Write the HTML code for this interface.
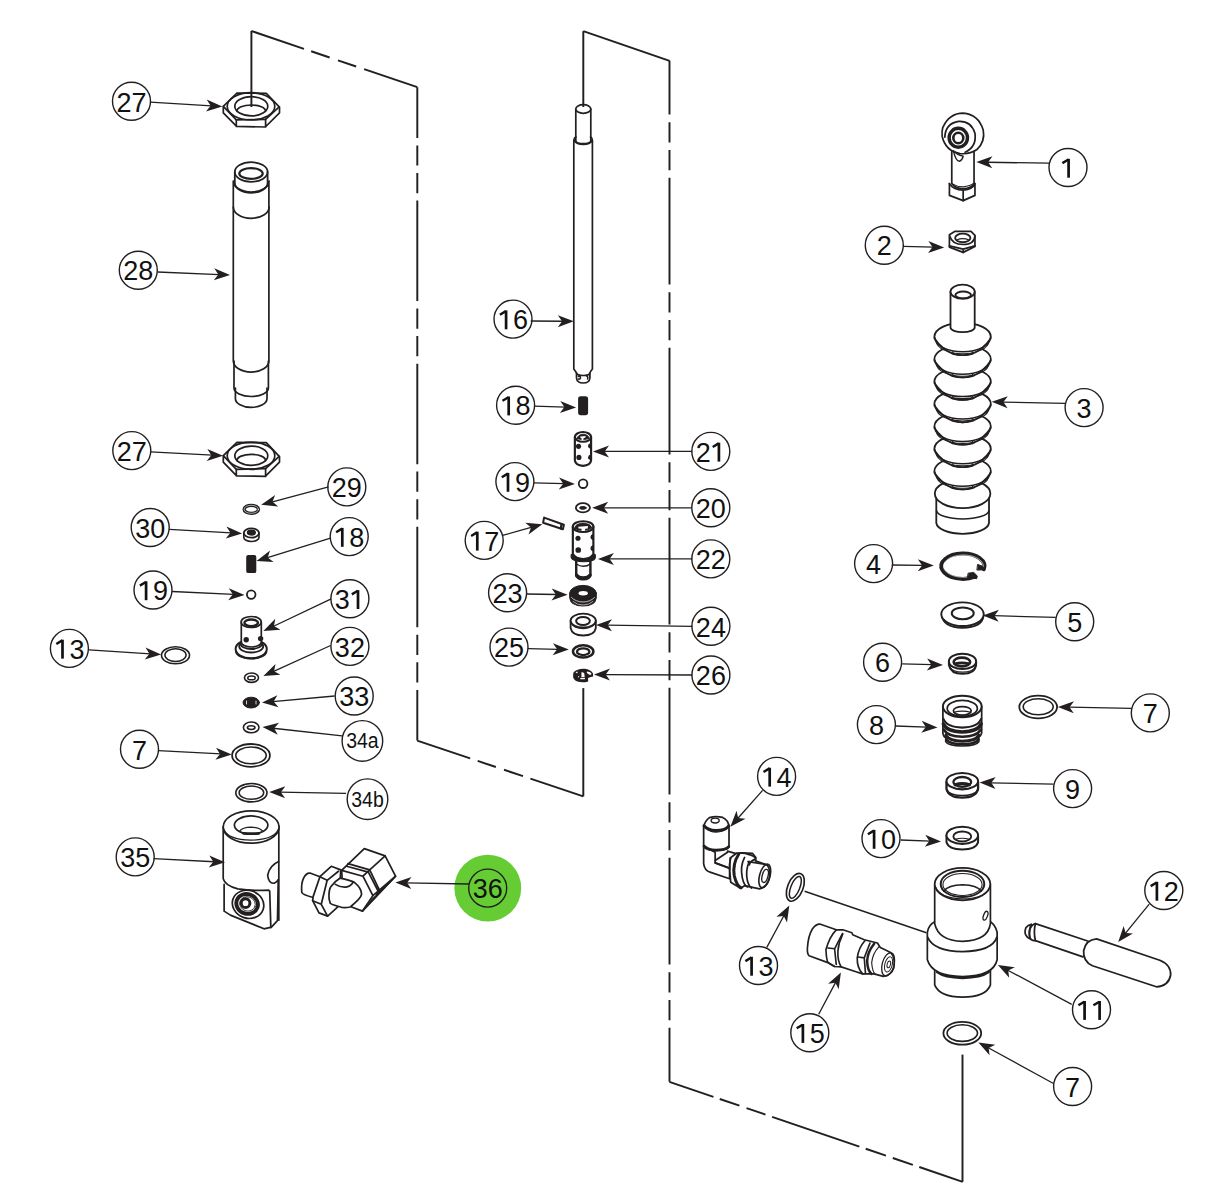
<!DOCTYPE html>
<html><head><meta charset="utf-8"><style>
html,body{margin:0;padding:0;background:#fff;}
svg{display:block;}
text{font-family:"Liberation Sans",sans-serif;fill:#111;}
</style></head><body>
<svg width="1214" height="1184" viewBox="0 0 1214 1184">
<rect width="1214" height="1184" fill="#fff"/>
<g fill="none" stroke="#231f20" stroke-width="1.7" stroke-linejoin="round" stroke-linecap="round">
<!-- nut 27 top -->
<g id="nut27">
<path d="M236.9,93 L266.3,93.3 L279.2,106.9 L265.6,119.3 L236.3,119.9 L223.3,106.3 Z" fill="#fff"/>
<path d="M223.3,106.3 V112.8 L236.6,126.4 L265.3,127 L279.5,112.8 V106.9 M236.3,119.9 V126.4 M265.6,119.3 V127"/>
<ellipse cx="251" cy="106.3" rx="23.8" ry="13.6"/>
<ellipse cx="251.3" cy="106.3" rx="16.5" ry="9.6"/>
<path d="M237,111 A14.2,6 0 0 1 265.5,111"/>
</g>
<use href="#nut27" transform="translate(0,349.4)"/>
<!-- pipe 28 -->
<ellipse cx="251.2" cy="172" rx="16.4" ry="9.8"/>
<ellipse cx="251" cy="173.5" rx="11.7" ry="5.4" stroke-width="2.2"/>
<path d="M234.8,172 V183 A16.4,9.8 0 0 0 267.6,183 V172" stroke-width="1.8"/>
<path d="M233.3,181 V361 A17.7,11 0 0 0 268.9,361 V181 M233.3,181 A17.9,11 0 0 0 269.1,181"/>
<path d="M233.3,207 A17.9,11.3 0 0 0 269.1,207"/>
<path d="M234,361 V388 A17.2,8.5 0 0 0 268.4,388 V361"/>
<path d="M235.4,388 V398.4 A15.8,9 0 0 0 267,398.4 V388"/>
<!-- 29 ring -->
<ellipse cx="251.3" cy="509.3" rx="7.2" ry="4" stroke-width="3.3"/><ellipse cx="251.3" cy="509.3" rx="7.2" ry="4" stroke="#fff" stroke-width="0.6"/>
<!-- 30 -->
<path d="M243.8,533 V537.5 A7.6,4 0 0 0 259,537.5 V533" stroke-width="1.6"/>
<ellipse cx="251.4" cy="533" rx="7.6" ry="4.6" stroke-width="1.8"/>
<ellipse cx="251.4" cy="532.6" rx="3.8" ry="2.2" fill="#231f20"/>
<!-- 18 spring -->
<rect x="246.2" y="554.9" width="10.1" height="18.2" rx="2.2" fill="#231f20" stroke="none"/>
<!-- 19 ball -->
<circle cx="251.2" cy="594.6" r="4.3" stroke-width="1.8"/>
<!-- 31 -->
<ellipse cx="251.2" cy="649" rx="15.6" ry="9.3" fill="#fff" stroke-width="2"/>
<path d="M236,652 A15.3,7.5 0 0 0 266.4,652" stroke-width="1.8"/>
<ellipse cx="251.2" cy="646.5" rx="12" ry="6" stroke-width="1.8"/>
<ellipse cx="251.2" cy="644" rx="10.5" ry="5" stroke-width="1.8"/>
<path d="M241.3,622 V642 A10,5 0 0 0 261.3,642 V622" fill="#fff" stroke-width="1.7"/>
<ellipse cx="251.2" cy="622" rx="10" ry="5.5" fill="#fff" stroke-width="1.7"/>
<ellipse cx="251.2" cy="622.8" rx="6.8" ry="3.3" stroke-width="2.4"/>
<circle cx="246.2" cy="639.8" r="2.7" fill="#231f20" stroke="none"/>
<circle cx="260.6" cy="638.6" r="2.7" fill="#231f20" stroke="none"/>
<!-- 32 -->
<ellipse cx="251.5" cy="677.7" rx="7" ry="4.7" stroke-width="1.6"/>
<ellipse cx="251.5" cy="677.9" rx="3.8" ry="1.9" stroke-width="1.4"/>
<!-- 33 -->
<ellipse cx="251.2" cy="702.6" rx="8.2" ry="5.4" fill="#231f20" stroke-width="1"/>
<path d="M246.5,701 V704 M256,701 V704" stroke="#fff" stroke-width="0.8"/>
<!-- 34a -->
<ellipse cx="251.2" cy="727.4" rx="7.8" ry="5.4" stroke-width="1.6"/>
<ellipse cx="251.2" cy="727.6" rx="3.8" ry="1.9" stroke-width="1.6"/>
<!-- 13 left ring -->
<ellipse cx="175.5" cy="655.3" rx="14" ry="8.5" stroke-width="1.6"/>
<ellipse cx="175.5" cy="655.1" rx="10.6" ry="6.3" stroke-width="1.5"/>
<!-- 7 ring -->
<ellipse cx="251" cy="755.4" rx="18.9" ry="11.4" stroke-width="1.8"/>
<ellipse cx="251" cy="755.4" rx="15.2" ry="8.4" stroke-width="1.6"/>
<!-- 34b ring -->
<ellipse cx="251.4" cy="792.7" rx="15.6" ry="9.2" stroke-width="1.6"/>
<ellipse cx="251.4" cy="792.7" rx="12.3" ry="6.6" stroke-width="1.5"/>
<!-- 35 body -->
<g transform="translate(215,800) scale(0.11398)" stroke-width="15">
<path d="M80,740 L80,975 L135,1010 L430,1130 L495,1115 L548,1058 L555,700" fill="#fff"/>
<path d="M72,235 L72,690 Q85,750 200,780 Q330,800 470,790 L480,800 L490,1120" fill="#fff"/>
<path d="M560,230 L560,1055"/>
<ellipse cx="317" cy="237" rx="245" ry="142" fill="#fff"/>
<path d="M76,255 Q110,350 317,352 Q520,350 558,255" stroke-width="11"/>
<ellipse cx="317" cy="220" rx="147" ry="80"/>
<path d="M215,275 Q240,240 317,238 Q395,240 420,275" stroke-width="11"/>
<path d="M250,292 Q317,300 385,292" stroke-width="24"/>
<path d="M558,540 Q478,575 462,660 Q470,735 520,730 Q545,720 556,700" />
<ellipse cx="290" cy="915" rx="140" ry="122" transform="rotate(20 290 915)"/>
<ellipse cx="282" cy="912" rx="96" ry="86" transform="rotate(20 282 912)" stroke-width="34"/>
<ellipse cx="285" cy="912" rx="70" ry="62" transform="rotate(20 285 912)" stroke-width="7"/>
<circle cx="268" cy="905" r="38" stroke-width="26"/>
</g>
<!-- 36 fitting -->
<g transform="translate(295,840) scale(0.09058)" stroke-width="19">
<path d="M275,405 L165,365 Q125,360 95,420 Q65,480 75,580 Q85,605 200,635" fill="#fff"/>
<path d="M275,405 L400,290 L505,330 L500,420 L440,480 L470,740 L360,840 L265,805 L195,670 L200,625 Z" fill="#fff"/>
<path d="M275,405 L355,445 L480,345 M355,445 L290,710 L195,670 M290,710 L360,840"/>
<path d="M515,335 L765,95 L995,175 L1110,400 L745,785 L625,740 L520,420 Z" fill="#fff"/>
<path d="M585,260 L825,330 L995,175 M570,290 L810,355 M515,335 L750,400 L825,330 M750,400 L860,615 L745,785 M825,330 L935,560 M810,355 L920,570 M860,615 L1110,400 M900,600 L1090,420"/>
<path d="M745,785 L1110,400 L1040,480 L860,640 Z" fill="#231f20" stroke-width="8"/>
<path d="M500,420 Q600,440 652,465 Q735,530 735,600 Q730,640 610,740 Q560,750 520,745 Q420,720 390,700 Q370,650 375,600 Q380,520 410,500 Q450,450 500,420 Z" fill="#fff"/>
<path d="M445,490 Q500,525 560,520 Q610,515 640,470"/>
</g>
<!-- 16 rod -->
<g stroke-width="1.7">
<path d="M575.8,109 V142 M590.8,109 V142"/>
<ellipse cx="583.3" cy="109" rx="7.5" ry="4.3" fill="#fff"/>
<path d="M573.8,141 V369 Q576,372 576.5,373 V378 Q577,383 583.2,383 Q589.5,383 589.9,378 V373 Q590,372 592.4,369 V141"/>
<path d="M573.8,141 Q574,137.5 576,137 M592.4,141 Q592.2,137.5 590.5,137"/>
<path d="M575,141 A8.5,4 0 0 0 591.5,141" stroke-width="2.4"/>
<path d="M576.5,373 A6.7,2.5 0 0 0 589.9,373"/>
<path d="M578.5,376.5 Q580.5,375.5 580.5,378 Q580,379.5 578.5,379 M586.5,376 Q588.5,376.5 587.5,379" stroke-width="1.5"/>
</g>
<!-- 18 spring mid -->
<rect x="578.1" y="396.2" width="10" height="19" rx="2.6" fill="#231f20" stroke="none"/>
<!-- 21 -->
<g transform="translate(535,425) scale(0.13514)" stroke-width="16">
<path d="M295,88 V262 Q300,300 355,302 Q410,300 415,262 V88" fill="#fff"/>
<ellipse cx="355" cy="88" rx="60" ry="36" fill="#fff"/>
<path d="M310,100 Q320,70 355,68 Q395,70 402,98 Q380,108 355,108 Q325,108 310,100 Z" fill="#231f20" stroke-width="6"/>
<path d="M335,85 L375,82 L372,95 L360,96 L357,112 L345,112 L344,96 L335,95 Z" fill="#fff" stroke="none"/>
<circle cx="322" cy="158" r="19" fill="#231f20" stroke="none"/>
<circle cx="325" cy="240" r="19" fill="#231f20" stroke="none"/>
<path d="M415,132 Q392,140 392,155 Q392,172 415,176 Z M415,216 Q392,224 392,240 Q392,256 415,260 Z" fill="#231f20" stroke="none"/>
</g>
<!-- 19 ball mid -->
<circle cx="583.1" cy="483.7" r="4.3" stroke-width="1.8"/>
<!-- 20 ring -->
<ellipse cx="582.9" cy="507.8" rx="7" ry="4.6" stroke-width="1.8"/>
<ellipse cx="582.9" cy="507.9" rx="3.3" ry="1.4" fill="#231f20" stroke-width="1"/>
<!-- 17 pin -->
<path d="M544.1,517.6 L563.9,524.7 L562.9,529.3 L543.1,522.7 Z" fill="#fff" stroke-width="2"/>
<path d="M561.5,524.2 L560.8,528.6" stroke-width="2.2"/>
<!-- 22 -->
<g transform="translate(535,425) scale(0.13514)" stroke-width="16">
<path d="M305,990 V1110 Q310,1140 357,1142 Q405,1140 410,1110 V990" fill="#fff" stroke-width="18"/>
<path d="M308,1112 Q320,1132 357,1133 Q395,1132 407,1112" stroke-width="26"/>
<path d="M310,1030 Q330,1045 357,1045 Q390,1045 405,1030" stroke-width="10"/>
<path d="M268,960 Q262,990 290,1000 Q330,1012 357,1012 Q400,1012 430,1000 Q452,990 446,960 Q430,945 357,945 Q285,945 268,960 Z" fill="#231f20" stroke-width="8"/>
<path d="M280,752 V955 Q300,990 357,992 Q415,990 432,955 V752" fill="#fff"/>
<ellipse cx="356" cy="752" rx="76" ry="40" fill="#fff"/>
<path d="M292,765 Q300,728 356,726 Q410,728 420,762 Q395,780 356,780 Q315,780 292,765 Z" fill="#231f20" stroke-width="6"/>
<path d="M320,752 L392,748 L390,765 L372,767 L368,785 L345,785 L344,767 L322,766 Z" fill="#fff" stroke="none"/>
<circle cx="318" cy="838" r="19" fill="#231f20" stroke="none"/>
<circle cx="320" cy="925" r="21" fill="#231f20" stroke="none"/>
<path d="M432,805 Q410,812 410,828 Q410,846 432,852 Z M432,888 Q410,896 410,912 Q410,930 432,936 Z" fill="#231f20" stroke="none"/>
</g>
<!-- 23 -->
<g>
<path d="M569.8,593 V598 Q571,606 583,606 Q595,606 596.2,598 V593" fill="#231f20" stroke-width="1.2"/>
<ellipse cx="583" cy="593" rx="13.2" ry="7.6" fill="#231f20" stroke-width="1"/>
<ellipse cx="583.2" cy="593.2" rx="4.6" ry="2.2" fill="#fff" stroke="none"/>
<path d="M571.5,597.5 Q576,602 583,602 Q590,602 594.5,597.5" stroke="#fff" stroke-width="0.7"/><path d="M573,601.5 Q577,605 583,605 Q589,605 593,601.5" stroke="#fff" stroke-width="0.6"/>
</g>
<!-- 24 -->
<g stroke-width="1.8">
<path d="M570.6,620.6 V628 Q572,635.5 583.2,635.5 Q594.5,635.5 595.8,628 V620.6" fill="#fff"/>
<ellipse cx="583.2" cy="620.6" rx="12.6" ry="6.9" fill="#fff"/>
<ellipse cx="583" cy="621" rx="6.9" ry="4" stroke-width="2"/>
<path d="M571,623 Q574,628.5 583.2,628.5 Q592,628.5 595.5,623" stroke-width="1.3"/>
</g>
<!-- 25 -->
<ellipse cx="583.2" cy="651.4" rx="10.2" ry="6.1" stroke-width="2.5"/>
<ellipse cx="583.2" cy="651.7" rx="6.2" ry="3.4" stroke-width="2.3"/>
<!-- 26 eclip -->
<g transform="translate(560,660) scale(0.04119)">
<path d="M330,300 Q420,205 600,215 Q740,230 800,320 L805,400 Q760,410 680,440 L685,520 Q560,560 420,525 Q310,470 318,380 Q320,330 330,300 Z" fill="#231f20" stroke="none"/>
<ellipse cx="705" cy="318" rx="62" ry="28" transform="rotate(25 705 318)" fill="#fff" stroke="none"/>
<path d="M520,300 Q560,290 590,330 L600,420 L520,420 Z M490,435 L610,440 L600,470 L495,468 Z" fill="#fff" stroke="none"/>
<path d="M375,300 L430,280 L420,330 Z M430,400 L470,390 L450,430 Z" fill="#fff" stroke="none"/>
</g>
<!-- 1 rod end + 2 nut -->
<g transform="translate(935,105) scale(0.131)" stroke-width="13">
<path d="M110,600 L110,690 L215,730 L305,690 L305,600" fill="#fff"/>
<path d="M110,600 Q140,650 215,650 Q290,645 305,600 M215,650 V730"/>
<path d="M128,330 V600 Q160,640 215,640 Q280,635 298,600 V330" fill="#fff"/>
<path d="M128,600 Q170,625 215,625 Q270,620 298,595" stroke-width="8"/>
<path d="M60,170 Q110,62 215,62 Q330,70 368,190 Q385,280 320,340 Q260,380 190,370 Q80,350 55,240 Q50,200 60,170 Z" fill="#fff"/>
<path d="M75,245 Q80,140 180,125 Q275,120 305,215 Q320,320 230,360" />
<ellipse cx="178" cy="250" rx="70" ry="72" stroke-width="26"/>
<ellipse cx="178" cy="252" rx="38" ry="40" stroke-width="20"/>
<path d="M140,350 Q160,430 185,430 Q210,420 215,390 Q180,385 140,350 Z" fill="#fff" stroke-width="11"/>
</g>
<g transform="translate(935,105) scale(0.131)" stroke-width="13">
<path d="M110,990 L150,965 L275,965 L305,995 L305,1080 L215,1125 L110,1085 Z" fill="#fff"/>
<path d="M110,1075 L215,1100 L305,1075 M215,1100 V1125"/>
<path d="M112,1000 Q130,1065 215,1065 Q300,1065 305,1000" />
<ellipse cx="212" cy="1015" rx="58" ry="33" stroke-width="14"/>
<path d="M165,1030 Q212,1010 260,1030" stroke-width="8"/>
</g>
<!-- 3 bellows -->
<g stroke-width="1.8">
<path d="M936.3,493 V523 A26.4,11.5 0 0 0 989,523 V493" fill="#fff"/>
<path d="M936.5,510.6 A26.3,9 0 0 0 989,510.6" stroke-width="1.6"/>
<ellipse cx="962.6" cy="493.6" rx="27.8" ry="14.5" fill="#fff"/>
<path d="M934.4,471.2 A28.2,14 0 0 1 990.8,471.2 L990.8,472.7 Q983.8,483.2 972.6,488.2 Q962.6,490.7 952.6,488.2 Q941.4,483.2 934.4,472.7 Z" fill="#fff"/>
<path d="M934.9,472.2 A27.7,14 0 0 0 990.3,472.2" stroke-width="1.5"/>
<path d="M936.4,475.7 A26.2,12.5 0 0 0 988.8,475.7" stroke-width="1.1"/>
<path d="M952.6,486.2 A10,3.5 0 0 0 972.6,486.2" stroke-width="1.3"/>
<path d="M934.4,448.8 A28.2,14 0 0 1 990.8,448.8 L990.8,450.3 Q983.8,460.8 972.6,465.8 Q962.6,468.3 952.6,465.8 Q941.4,460.8 934.4,450.3 Z" fill="#fff"/>
<path d="M934.9,449.8 A27.7,14 0 0 0 990.3,449.8" stroke-width="1.5"/>
<path d="M936.4,453.3 A26.2,12.5 0 0 0 988.8,453.3" stroke-width="1.1"/>
<path d="M952.6,463.8 A10,3.5 0 0 0 972.6,463.8" stroke-width="1.3"/>
<path d="M934.4,426.4 A28.2,14 0 0 1 990.8,426.4 L990.8,427.9 Q983.8,438.4 972.6,443.4 Q962.6,445.9 952.6,443.4 Q941.4,438.4 934.4,427.9 Z" fill="#fff"/>
<path d="M934.9,427.4 A27.7,14 0 0 0 990.3,427.4" stroke-width="1.5"/>
<path d="M936.4,430.9 A26.2,12.5 0 0 0 988.8,430.9" stroke-width="1.1"/>
<path d="M952.6,441.4 A10,3.5 0 0 0 972.6,441.4" stroke-width="1.3"/>
<path d="M934.4,404.0 A28.2,14 0 0 1 990.8,404.0 L990.8,405.5 Q983.8,416.0 972.6,421.0 Q962.6,423.5 952.6,421.0 Q941.4,416.0 934.4,405.5 Z" fill="#fff"/>
<path d="M934.9,405.0 A27.7,14 0 0 0 990.3,405.0" stroke-width="1.5"/>
<path d="M936.4,408.5 A26.2,12.5 0 0 0 988.8,408.5" stroke-width="1.1"/>
<path d="M952.6,419.0 A10,3.5 0 0 0 972.6,419.0" stroke-width="1.3"/>
<path d="M934.4,381.6 A28.2,14 0 0 1 990.8,381.6 L990.8,383.1 Q983.8,393.6 972.6,398.6 Q962.6,401.1 952.6,398.6 Q941.4,393.6 934.4,383.1 Z" fill="#fff"/>
<path d="M934.9,382.6 A27.7,14 0 0 0 990.3,382.6" stroke-width="1.5"/>
<path d="M936.4,386.1 A26.2,12.5 0 0 0 988.8,386.1" stroke-width="1.1"/>
<path d="M952.6,396.6 A10,3.5 0 0 0 972.6,396.6" stroke-width="1.3"/>
<path d="M934.4,359.2 A28.2,14 0 0 1 990.8,359.2 L990.8,360.7 Q983.8,371.2 972.6,376.2 Q962.6,378.7 952.6,376.2 Q941.4,371.2 934.4,360.7 Z" fill="#fff"/>
<path d="M934.9,360.2 A27.7,14 0 0 0 990.3,360.2" stroke-width="1.5"/>
<path d="M936.4,363.7 A26.2,12.5 0 0 0 988.8,363.7" stroke-width="1.1"/>
<path d="M952.6,374.2 A10,3.5 0 0 0 972.6,374.2" stroke-width="1.3"/>
<path d="M934.4,336.8 A28.2,14 0 0 1 990.8,336.8 L990.8,338.3 Q983.8,348.8 972.6,353.8 Q962.6,356.3 952.6,353.8 Q941.4,348.8 934.4,338.3 Z" fill="#fff"/>
<path d="M934.9,337.8 A27.7,14 0 0 0 990.3,337.8" stroke-width="1.5"/>
<path d="M936.4,341.3 A26.2,12.5 0 0 0 988.8,341.3" stroke-width="1.1"/>
<path d="M952.6,351.8 A10,3.5 0 0 0 972.6,351.8" stroke-width="1.3"/>
<path d="M950.5,291.7 V327.6 A12.1,4.6 0 0 0 974.7,327.6 V291.7" fill="#fff" stroke-width="1.8"/>
<ellipse cx="962.6" cy="291.7" rx="12.1" ry="7" fill="#fff" stroke-width="1.8"/>
<ellipse cx="963.2" cy="295" rx="7.8" ry="3.4" stroke-width="2"/>
</g>
<!-- 4 snap ring, 5 washer, 6 -->
<g transform="translate(930,545) scale(0.1182)" stroke-width="15">
<path d="M455,205 A182,107 0 1 0 380,268" stroke-width="34"/><path d="M448,203 A170,95 0 1 0 378,258" stroke="#fff" stroke-width="5"/>
<path d="M405,165 L445,180 L465,210 L400,212 Z M325,238 L370,232 L400,262 L395,285 L320,275 Z" fill="#231f20" stroke-width="8"/>
<path d="M97,585 Q110,700 275,700 Q440,700 453,600 L453,585" fill="#fff"/>
<ellipse cx="275" cy="585" rx="179" ry="100" fill="#fff"/>
<path d="M120,630 Q170,690 275,690 Q390,690 445,630" stroke-width="9"/>
<ellipse cx="277" cy="578" rx="93" ry="50" stroke-width="17"/>
<path d="M160,985 V1015 Q175,1090 275,1090 Q380,1090 390,1015 V985" fill="#fff" stroke-width="17"/>
<path d="M165,1030 Q190,1075 275,1075 Q365,1075 385,1030" stroke-width="10"/>
<ellipse cx="275" cy="985" rx="115" ry="65" fill="#fff" stroke-width="17"/>
<ellipse cx="270" cy="990" rx="70" ry="37" stroke-width="22"/>
<path d="M210,1005 Q270,990 330,1005" stroke-width="24"/>
</g>
<!-- 8, 9, 10 -->
<g transform="translate(935,690) scale(0.1436)" stroke-width="12">
<path d="M55,115 V300 Q60,330 75,330 V360 Q90,390 190,390 Q290,390 305,360 V330 Q320,320 325,300 V115" fill="#fff"/>
<path d="M58,200 Q80,260 190,262 Q300,260 322,200" stroke-width="14"/>
<path d="M58,235 Q80,290 190,292 Q300,290 322,235" stroke-width="24"/>
<path d="M60,275 Q90,325 190,325 Q290,325 320,275" stroke-width="18"/>
<path d="M75,315 Q100,355 190,357 Q285,355 305,315" stroke-width="22"/>
<path d="M78,345 Q110,378 190,378 Q280,378 303,345" stroke-width="18"/>
<ellipse cx="190" cy="115" rx="135" ry="75" fill="#fff" stroke-width="14"/>
<ellipse cx="190" cy="128" rx="105" ry="55" stroke-width="12"/>
<ellipse cx="190" cy="145" rx="62" ry="30" stroke-width="12"/>
<path d="M130,155 Q190,140 250,155" stroke-width="8"/>
</g>
<g transform="translate(935,690) scale(0.1436)" stroke-width="13">
<path d="M80,640 V690 Q95,750 190,750 Q285,750 300,690 V640" fill="#fff" stroke-width="16"/>
<path d="M82,700 Q110,735 190,735 Q270,735 298,700" stroke-width="10"/>
<ellipse cx="190" cy="635" rx="110" ry="57" fill="#fff" stroke-width="14"/>
<ellipse cx="190" cy="640" rx="62" ry="34" stroke-width="16"/>
<path d="M140,660 Q190,645 240,660" stroke-width="22"/>
<path d="M80,1015 V1060 Q95,1110 190,1110 Q285,1110 300,1060 V1015" fill="#fff" stroke-width="14"/>
<ellipse cx="190" cy="1012" rx="110" ry="60" fill="#fff" stroke-width="14"/>
<ellipse cx="190" cy="1020" rx="62" ry="35" stroke-width="13"/>
<path d="M140,1040 Q190,1025 240,1040" stroke-width="8"/>
</g>
<!-- 7 right ring -->
<ellipse cx="1038.2" cy="707" rx="18.9" ry="11.3" stroke-width="1.8"/>
<ellipse cx="1038.2" cy="706.8" rx="15" ry="8" stroke-width="1.6"/>
<!-- 7 bottom ring -->
<ellipse cx="962.3" cy="1033.3" rx="18.9" ry="11.4" stroke-width="1.8"/>
<ellipse cx="962.3" cy="1033.1" rx="15.2" ry="8.3" stroke-width="1.6"/>
<!-- 14 elbow -->
<g transform="translate(680,790) scale(0.11532)" stroke-width="15">
<path d="M205,490 V640 Q215,700 260,712 L430,770 L430,680 L305,632 V540 Z" fill="#fff"/>
<path d="M305,632 L430,676 M305,612 L412,540 M412,530 L515,560"/>
<path d="M430,680 L440,800 L525,852 L560,830 L690,857 Q770,840 780,730 Q775,650 740,645 L655,615 L658,585 L630,550 L540,545 L490,548 L435,590 Z" fill="#fff"/>
<path d="M440,590 Q425,640 432,690"/>
<path d="M510,555 Q455,640 470,740 Q490,830 530,848" stroke-width="26"/>
<path d="M540,548 Q560,548 600,560 Q650,570 655,600 Q610,615 600,650"/>
<path d="M560,585 Q520,660 540,760 Q555,830 585,840"/>
<path d="M600,620 Q565,700 585,790 Q600,840 620,850"/>
<ellipse cx="735" cy="745" rx="45" ry="105" transform="rotate(15 735 745)" stroke-width="14"/>
<ellipse cx="738" cy="745" rx="25" ry="58" transform="rotate(15 738 745)" stroke-width="12"/>
<path d="M590,622 L740,645"/>
<path d="M205,320 V490 Q230,525 310,525 Q400,525 425,495 V320 Q420,260 370,238 Q310,222 255,240 Q215,270 205,320 Z" fill="#fff"/>
<path d="M208,310 Q240,350 310,352 Q400,350 423,310" stroke-width="26"/>
<path d="M208,485 Q240,520 310,522 Q400,520 423,490" stroke-width="24"/>
<path d="M232,330 Q260,365 312,365 Q380,362 410,330" stroke-width="10"/>
<ellipse cx="305" cy="265" rx="35" ry="21" stroke-width="12"/>
</g>
<!-- 13 right tilted ring -->
<g transform="translate(695,805) scale(0.09885)">
<ellipse cx="1015" cy="833" rx="78" ry="148" transform="rotate(22 1015 833)" stroke-width="17"/>
<ellipse cx="1015" cy="833" rx="45" ry="118" transform="rotate(22 1015 833)" stroke-width="15"/>
</g>
<!-- 15 fitting -->
<g transform="translate(800,915) scale(0.08237)" stroke-width="20">
<path d="M240,110 L440,180 L520,180 L630,215 L640,240 L780,300 L940,340 L975,395 L1100,455 Q1160,520 1140,640 Q1110,730 1010,745 L900,715 L760,715 L680,690 L500,630 L420,625 L330,575 L110,495 Q85,470 90,400 Q100,250 150,170 Q190,110 240,110 Z" fill="#fff"/>
<path d="M440,180 Q360,260 315,420 Q320,560 345,580 L420,625"/>
<path d="M340,400 L420,410 L515,225 M420,410 L440,600"/>
<path d="M520,230 Q470,330 460,440 Q455,560 500,630" />
<path d="M790,310 Q710,400 695,520 Q690,640 760,715"/>
<path d="M700,510 L780,520 L850,340 M780,520 L795,710"/>
<path d="M900,350 Q820,450 815,560 Q820,680 870,715" stroke-width="30"/>
<path d="M960,385 Q880,470 870,580 Q880,690 910,715" stroke-width="14"/>
<ellipse cx="1070" cy="600" rx="72" ry="145" transform="rotate(15 1070 600)" stroke-width="16"/>
<ellipse cx="1075" cy="600" rx="45" ry="95" transform="rotate(15 1075 600)" stroke-width="12"/>
<ellipse cx="1078" cy="600" rx="20" ry="42" transform="rotate(15 1078 600)" stroke-width="12"/>
</g>
<!-- 11 body -->
<g transform="translate(920,860) scale(0.12245)" stroke-width="14">
<path d="M120,880 V1020 Q160,1120 347,1120 Q540,1120 575,1020 V880" fill="#fff"/>
<path d="M140,915 Q200,960 347,962 Q500,960 560,915" stroke-width="22"/>
<path d="M60,590 V815 Q100,950 347,952 Q600,950 630,815 V590 Q615,530 575,505 L120,505 Q70,530 60,590 Z" fill="#fff"/>
<path d="M62,630 Q110,745 347,748 Q590,745 628,630"/>
<path d="M120,195 V520 Q150,660 347,665 Q555,660 575,520 V195" fill="#fff"/>
<ellipse cx="347" cy="197" rx="227" ry="132" fill="#fff"/>
<path d="M125,215 Q160,315 347,318 Q540,315 572,215" stroke-width="10"/>
<ellipse cx="347" cy="195" rx="178" ry="108" stroke-width="16"/>
<ellipse cx="347" cy="200" rx="160" ry="90" stroke-width="9"/>
<path d="M195,255 Q230,205 347,203 Q465,205 500,255" stroke-width="12"/>
<ellipse cx="535" cy="455" rx="16" ry="38" transform="rotate(20 535 455)" stroke-width="11"/>
</g>
<!-- 12 pin handle -->
<g transform="translate(1015,910) scale(0.1359)" stroke-width="13">
<path d="M150,100 L540,230 M150,225 L500,345"/>
<path d="M150,100 Q125,105 110,140 Q100,185 115,215 Q135,228 150,225 Q135,165 150,100 Z" fill="#fff"/>
<path d="M120,105 Q95,110 80,130 Q68,165 80,185 Q95,212 115,212" fill="none"/>
<path d="M118,110 Q100,150 108,200"/>
<path d="M600,213 L1065,370 Q1150,405 1145,480 Q1130,560 1040,565 L570,410 Q500,380 505,300 Q520,220 600,213 Z" fill="#fff"/>
</g>

</g>
<circle cx="487.8" cy="888.1" r="33.4" fill="#66cc33"/>
<line x1="251.4" y1="107" x2="251.4" y2="31" stroke="#231f20" stroke-width="1.95"/>
<polyline points="251.4,31 417.3,87.2" fill="none" stroke="#231f20" stroke-width="1.95" stroke-dasharray="55.5 7.6 19.5 8.8 19.2 8.4 100"/>
<line x1="417.3" y1="87.2" x2="417.3" y2="740.6" stroke="#231f20" stroke-width="1.95" stroke-dasharray="100.5 7.4 20.2 7.4 20.2 7.4" stroke-dashoffset="49.7" fill="none"/>
<line x1="417.2" y1="740.6" x2="583.3" y2="796.4" stroke="#231f20" stroke-width="1.95" stroke-dasharray="55.9 7.9 19.2 8.6 20 7.8 100"/>
<line x1="583.3" y1="796.4" x2="583.3" y2="688.1" stroke="#231f20" stroke-width="1.95"/>
<line x1="583.3" y1="107" x2="583.3" y2="31.2" stroke="#231f20" stroke-width="1.95"/>
<line x1="583.3" y1="31.2" x2="669.6" y2="60.8" stroke="#231f20" stroke-width="1.95"/>
<line x1="669.5" y1="60.8" x2="669.5" y2="1081.8" stroke="#231f20" stroke-width="1.95" stroke-dasharray="106.8 7.6 20.2 7.6 20.2 7.6" stroke-dashoffset="53" fill="none"/>
<line x1="669.4" y1="1081.8" x2="962.7" y2="1181.8" stroke="#231f20" stroke-width="1.95" stroke-dasharray="46.5 6.7 20.8 7.5 20 7 92.2 6.7 21.4 7.2 21.2 6.8 100"/>
<line x1="962.5" y1="1181.8" x2="962.5" y2="1054.6" stroke="#231f20" stroke-width="1.95"/>
<line x1="804.6" y1="891.2" x2="926.4" y2="932.7" stroke="#231f20" stroke-width="1.5"/>
<line x1="150.2" y1="102.2" x2="211.62" y2="105.86" stroke="#231f20" stroke-width="1.3"/>
<polygon points="222.30,106.50 206.69,99.56 210.62,105.80 205.97,111.54" fill="#231f20"/>
<line x1="157.5" y1="272" x2="219.31" y2="274.56" stroke="#231f20" stroke-width="1.3"/>
<polygon points="230.00,275.00 214.26,268.34 218.31,274.52 213.77,280.33" fill="#231f20"/>
<line x1="150.6" y1="451.8" x2="212.32" y2="455.21" stroke="#231f20" stroke-width="1.3"/>
<polygon points="223.00,455.80 207.36,448.93 211.32,455.15 206.69,460.91" fill="#231f20"/>
<line x1="328.6" y1="486.9" x2="271.54" y2="502.05" stroke="#231f20" stroke-width="1.3"/>
<polygon points="261.20,504.80 278.20,506.49 272.51,501.80 275.12,494.89" fill="#231f20"/>
<line x1="169.3" y1="529.4" x2="231.42" y2="532.90" stroke="#231f20" stroke-width="1.3"/>
<polygon points="242.10,533.50 226.46,526.61 230.42,532.84 225.79,538.59" fill="#231f20"/>
<line x1="330.5" y1="538.2" x2="266.73" y2="557.85" stroke="#231f20" stroke-width="1.3"/>
<polygon points="256.50,561.00 273.56,562.02 267.68,557.55 270.02,550.55" fill="#231f20"/>
<line x1="172.1" y1="591.5" x2="233.81" y2="594.40" stroke="#231f20" stroke-width="1.3"/>
<polygon points="244.50,594.90 228.80,588.16 232.81,594.35 228.24,600.14" fill="#231f20"/>
<line x1="331.2" y1="598.8" x2="273.06" y2="626.50" stroke="#231f20" stroke-width="1.3"/>
<polygon points="263.40,631.10 280.43,629.64 273.96,626.07 275.26,618.80" fill="#231f20"/>
<line x1="89" y1="649.8" x2="150.42" y2="653.80" stroke="#231f20" stroke-width="1.3"/>
<polygon points="161.10,654.50 145.52,647.47 149.42,653.74 144.74,659.45" fill="#231f20"/>
<line x1="330.6" y1="645.5" x2="273.14" y2="671.58" stroke="#231f20" stroke-width="1.3"/>
<polygon points="263.40,676.00 280.45,674.85 274.05,671.16 275.49,663.92" fill="#231f20"/>
<line x1="334.6" y1="696" x2="272.66" y2="701.63" stroke="#231f20" stroke-width="1.3"/>
<polygon points="262.00,702.60 278.48,707.13 273.65,701.54 277.39,695.18" fill="#231f20"/>
<line x1="342.1" y1="735.8" x2="273.14" y2="728.26" stroke="#231f20" stroke-width="1.3"/>
<polygon points="262.50,727.10 277.75,734.80 274.13,728.37 279.06,722.87" fill="#231f20"/>
<line x1="158.2" y1="750.7" x2="221.01" y2="753.95" stroke="#231f20" stroke-width="1.3"/>
<polygon points="231.70,754.50 216.03,747.68 220.02,753.90 215.41,759.67" fill="#231f20"/>
<line x1="346.1" y1="793.4" x2="279.90" y2="792.19" stroke="#231f20" stroke-width="1.3"/>
<polygon points="269.20,792.00 285.09,798.29 280.90,792.21 285.31,786.29" fill="#231f20"/>
<line x1="153.6" y1="858.7" x2="214.31" y2="861.76" stroke="#231f20" stroke-width="1.3"/>
<polygon points="225.00,862.30 209.32,855.50 213.31,861.71 208.72,867.49" fill="#231f20"/>
<line x1="469" y1="884" x2="406.10" y2="882.80" stroke="#231f20" stroke-width="1.3"/>
<polygon points="395.40,882.60 411.28,888.90 407.10,882.82 411.51,876.91" fill="#231f20"/>
<line x1="530.7" y1="321" x2="563.10" y2="321.23" stroke="#231f20" stroke-width="1.3"/>
<polygon points="573.80,321.30 557.84,315.19 562.10,321.22 557.76,327.19" fill="#231f20"/>
<line x1="534.1" y1="406.2" x2="565.40" y2="407.09" stroke="#231f20" stroke-width="1.3"/>
<polygon points="576.10,407.40 560.28,400.95 564.40,407.07 559.94,412.94" fill="#231f20"/>
<line x1="692.3" y1="451.4" x2="603.70" y2="451.40" stroke="#231f20" stroke-width="1.3"/>
<polygon points="593.00,451.40 609.00,457.40 604.70,451.40 609.00,445.40" fill="#231f20"/>
<line x1="533.6" y1="482.8" x2="564.20" y2="483.69" stroke="#231f20" stroke-width="1.3"/>
<polygon points="574.90,484.00 559.08,477.54 563.20,483.66 558.73,489.53" fill="#231f20"/>
<line x1="691.8" y1="507.8" x2="602.90" y2="507.80" stroke="#231f20" stroke-width="1.3"/>
<polygon points="592.20,507.80 608.20,513.80 603.90,507.80 608.20,501.80" fill="#231f20"/>
<line x1="502.5" y1="535.4" x2="531.99" y2="527.17" stroke="#231f20" stroke-width="1.3"/>
<polygon points="542.30,524.30 525.28,522.82 531.03,527.44 528.50,534.38" fill="#231f20"/>
<line x1="692.3" y1="558.9" x2="608.60" y2="558.90" stroke="#231f20" stroke-width="1.3"/>
<polygon points="597.90,558.90 613.90,564.90 609.60,558.90 613.90,552.90" fill="#231f20"/>
<line x1="526.3" y1="594" x2="556.90" y2="594.52" stroke="#231f20" stroke-width="1.3"/>
<polygon points="567.60,594.70 551.70,588.43 555.90,594.50 551.50,600.43" fill="#231f20"/>
<line x1="692.4" y1="626.3" x2="606.70" y2="625.06" stroke="#231f20" stroke-width="1.3"/>
<polygon points="596.00,624.90 611.91,631.13 607.70,625.07 612.09,619.13" fill="#231f20"/>
<line x1="528" y1="648.6" x2="558.10" y2="649.34" stroke="#231f20" stroke-width="1.3"/>
<polygon points="568.80,649.60 552.95,643.21 557.10,649.31 552.66,655.21" fill="#231f20"/>
<line x1="692.4" y1="675" x2="604.70" y2="674.55" stroke="#231f20" stroke-width="1.3"/>
<polygon points="594.00,674.50 609.97,680.58 605.70,674.56 610.03,668.58" fill="#231f20"/>
<line x1="1049.2" y1="163.2" x2="987.10" y2="162.26" stroke="#231f20" stroke-width="1.3"/>
<polygon points="976.40,162.10 992.31,168.34 988.10,162.28 992.49,156.34" fill="#231f20"/>
<line x1="903.1" y1="246.3" x2="933.50" y2="247.11" stroke="#231f20" stroke-width="1.3"/>
<polygon points="944.20,247.40 928.37,240.97 932.50,247.09 928.05,252.97" fill="#231f20"/>
<line x1="1065" y1="403.4" x2="1002.40" y2="402.03" stroke="#231f20" stroke-width="1.3"/>
<polygon points="991.70,401.80 1007.57,408.15 1003.40,402.06 1007.83,396.15" fill="#231f20"/>
<line x1="891.8" y1="565" x2="923.10" y2="565.45" stroke="#231f20" stroke-width="1.3"/>
<polygon points="933.80,565.60 917.89,559.37 922.10,565.43 917.72,571.37" fill="#231f20"/>
<line x1="1055.6" y1="617.4" x2="993.50" y2="615.69" stroke="#231f20" stroke-width="1.3"/>
<polygon points="982.80,615.40 998.63,621.84 994.50,615.72 998.96,609.84" fill="#231f20"/>
<line x1="902.2" y1="663.9" x2="932.30" y2="664.71" stroke="#231f20" stroke-width="1.3"/>
<polygon points="943.00,665.00 927.17,658.57 931.30,664.68 926.84,670.57" fill="#231f20"/>
<line x1="1131.8" y1="708.4" x2="1068.60" y2="707.20" stroke="#231f20" stroke-width="1.3"/>
<polygon points="1057.90,707.00 1073.78,713.30 1069.60,707.22 1074.01,701.30" fill="#231f20"/>
<line x1="895.4" y1="726" x2="926.81" y2="727.04" stroke="#231f20" stroke-width="1.3"/>
<polygon points="937.50,727.40 921.71,720.87 925.81,727.01 921.31,732.86" fill="#231f20"/>
<line x1="1053.5" y1="784.1" x2="990.30" y2="782.82" stroke="#231f20" stroke-width="1.3"/>
<polygon points="979.60,782.60 995.47,788.92 991.30,782.84 995.72,776.93" fill="#231f20"/>
<line x1="900.7" y1="840" x2="930.31" y2="841.03" stroke="#231f20" stroke-width="1.3"/>
<polygon points="941.00,841.40 925.22,834.85 929.31,840.99 924.80,846.84" fill="#231f20"/>
<line x1="762.6" y1="790.4" x2="737.49" y2="818.79" stroke="#231f20" stroke-width="1.3"/>
<polygon points="730.40,826.80 745.50,818.79 738.15,818.04 736.51,810.84" fill="#231f20"/>
<line x1="766.8" y1="947.4" x2="784.23" y2="915.02" stroke="#231f20" stroke-width="1.3"/>
<polygon points="789.30,905.60 776.43,916.84 783.75,915.90 787.00,922.53" fill="#231f20"/>
<line x1="818.7" y1="1014.2" x2="835.88" y2="981.85" stroke="#231f20" stroke-width="1.3"/>
<polygon points="840.90,972.40 828.10,983.72 835.41,982.73 838.69,989.35" fill="#231f20"/>
<line x1="1149.2" y1="904.1" x2="1124.96" y2="933.81" stroke="#231f20" stroke-width="1.3"/>
<polygon points="1118.20,942.10 1132.96,933.49 1125.60,933.03 1123.66,925.91" fill="#231f20"/>
<line x1="1071.7" y1="1004.4" x2="1007.33" y2="969.95" stroke="#231f20" stroke-width="1.3"/>
<polygon points="997.90,964.90 1009.18,977.74 1008.22,970.42 1014.84,967.16" fill="#231f20"/>
<line x1="1053.5" y1="1083.5" x2="987.79" y2="1047.54" stroke="#231f20" stroke-width="1.3"/>
<polygon points="978.40,1042.40 989.56,1055.34 988.66,1048.02 995.32,1044.82" fill="#231f20"/>
<circle cx="131.5" cy="101.3" r="19" fill="none" stroke="#231f20" stroke-width="1.4"/>
<text x="123.99" y="111.50" font-size="27" text-anchor="middle">2</text>
<text x="139.01" y="111.50" font-size="27" text-anchor="middle">7</text>
<circle cx="138.3" cy="270.2" r="19" fill="none" stroke="#231f20" stroke-width="1.4"/>
<text x="130.79" y="280.40" font-size="27" text-anchor="middle">2</text>
<text x="145.81" y="280.40" font-size="27" text-anchor="middle">8</text>
<circle cx="131.8" cy="450.6" r="19" fill="none" stroke="#231f20" stroke-width="1.4"/>
<text x="124.29" y="460.80" font-size="27" text-anchor="middle">2</text>
<text x="139.31" y="460.80" font-size="27" text-anchor="middle">7</text>
<circle cx="346.8" cy="486.9" r="19" fill="none" stroke="#231f20" stroke-width="1.4"/>
<text x="339.29" y="497.10" font-size="27" text-anchor="middle">2</text>
<text x="354.31" y="497.10" font-size="27" text-anchor="middle">9</text>
<circle cx="150.2" cy="527.5" r="19" fill="none" stroke="#231f20" stroke-width="1.4"/>
<text x="142.69" y="537.70" font-size="27" text-anchor="middle">3</text>
<text x="157.71" y="537.70" font-size="27" text-anchor="middle">0</text>
<circle cx="349.2" cy="536.6" r="19" fill="none" stroke="#231f20" stroke-width="1.4"/>
<path d="M342.29,546.80 V527.90" stroke="#111" stroke-width="2.7" fill="none"/>
<path d="M336.09,532.20 L342.09,528.60" stroke="#111" stroke-width="2.4" fill="none"/>
<text x="356.71" y="546.80" font-size="27" text-anchor="middle">8</text>
<circle cx="153" cy="590" r="19" fill="none" stroke="#231f20" stroke-width="1.4"/>
<path d="M146.09,600.20 V581.30" stroke="#111" stroke-width="2.7" fill="none"/>
<path d="M139.89,585.60 L145.89,582.00" stroke="#111" stroke-width="2.4" fill="none"/>
<text x="160.51" y="600.20" font-size="27" text-anchor="middle">9</text>
<circle cx="349.9" cy="598.8" r="19" fill="none" stroke="#231f20" stroke-width="1.4"/>
<text x="342.39" y="609.00" font-size="27" text-anchor="middle">3</text>
<path d="M358.01,609.00 V590.10" stroke="#111" stroke-width="2.7" fill="none"/>
<path d="M351.81,594.40 L357.81,590.80" stroke="#111" stroke-width="2.4" fill="none"/>
<circle cx="69.4" cy="648.4" r="19" fill="none" stroke="#231f20" stroke-width="1.4"/>
<path d="M62.49,658.60 V639.70" stroke="#111" stroke-width="2.7" fill="none"/>
<path d="M56.29,644.00 L62.29,640.40" stroke="#111" stroke-width="2.4" fill="none"/>
<text x="76.91" y="658.60" font-size="27" text-anchor="middle">3</text>
<circle cx="349.9" cy="646.4" r="19" fill="none" stroke="#231f20" stroke-width="1.4"/>
<text x="342.39" y="656.60" font-size="27" text-anchor="middle">3</text>
<text x="357.41" y="656.60" font-size="27" text-anchor="middle">2</text>
<circle cx="354.2" cy="696" r="19" fill="none" stroke="#231f20" stroke-width="1.4"/>
<text x="346.69" y="706.20" font-size="27" text-anchor="middle">3</text>
<text x="361.71" y="706.20" font-size="27" text-anchor="middle">3</text>
<circle cx="362.4" cy="740.9" r="20.3" fill="none" stroke="#231f20" stroke-width="1.4"/>
<text x="362.4" y="748.3" font-size="22" textLength="32.5" lengthAdjust="spacingAndGlyphs" text-anchor="middle">34a</text>
<circle cx="139.5" cy="749.3" r="19" fill="none" stroke="#231f20" stroke-width="1.4"/>
<text x="139.50" y="759.50" font-size="27" text-anchor="middle">7</text>
<circle cx="367.5" cy="799.2" r="20.3" fill="none" stroke="#231f20" stroke-width="1.4"/>
<text x="367.5" y="806.6" font-size="22" textLength="32.5" lengthAdjust="spacingAndGlyphs" text-anchor="middle">34b</text>
<circle cx="135.2" cy="856.9" r="19" fill="none" stroke="#231f20" stroke-width="1.4"/>
<text x="127.69" y="867.10" font-size="27" text-anchor="middle">3</text>
<text x="142.71" y="867.10" font-size="27" text-anchor="middle">5</text>
<circle cx="487.7" cy="888.1" r="19" fill="none" stroke="#231f20" stroke-width="1.4"/>
<text x="480.19" y="898.30" font-size="27" text-anchor="middle">3</text>
<text x="495.21" y="898.30" font-size="27" text-anchor="middle">6</text>
<circle cx="513" cy="319.1" r="19" fill="none" stroke="#231f20" stroke-width="1.4"/>
<path d="M506.09,329.30 V310.40" stroke="#111" stroke-width="2.7" fill="none"/>
<path d="M499.89,314.70 L505.89,311.10" stroke="#111" stroke-width="2.4" fill="none"/>
<text x="520.51" y="329.30" font-size="27" text-anchor="middle">6</text>
<circle cx="515.6" cy="405.2" r="19" fill="none" stroke="#231f20" stroke-width="1.4"/>
<path d="M508.69,415.40 V396.50" stroke="#111" stroke-width="2.7" fill="none"/>
<path d="M502.49,400.80 L508.49,397.20" stroke="#111" stroke-width="2.4" fill="none"/>
<text x="523.11" y="415.40" font-size="27" text-anchor="middle">8</text>
<circle cx="710.8" cy="451.4" r="19" fill="none" stroke="#231f20" stroke-width="1.4"/>
<text x="703.29" y="461.60" font-size="27" text-anchor="middle">2</text>
<path d="M718.91,461.60 V442.70" stroke="#111" stroke-width="2.7" fill="none"/>
<path d="M712.71,447.00 L718.71,443.40" stroke="#111" stroke-width="2.4" fill="none"/>
<circle cx="514.9" cy="481.6" r="19" fill="none" stroke="#231f20" stroke-width="1.4"/>
<path d="M507.99,491.80 V472.90" stroke="#111" stroke-width="2.7" fill="none"/>
<path d="M501.79,477.20 L507.79,473.60" stroke="#111" stroke-width="2.4" fill="none"/>
<text x="522.41" y="491.80" font-size="27" text-anchor="middle">9</text>
<circle cx="710.8" cy="507.8" r="19" fill="none" stroke="#231f20" stroke-width="1.4"/>
<text x="703.29" y="518.00" font-size="27" text-anchor="middle">2</text>
<text x="718.31" y="518.00" font-size="27" text-anchor="middle">0</text>
<circle cx="484.2" cy="540.4" r="19" fill="none" stroke="#231f20" stroke-width="1.4"/>
<path d="M477.29,550.60 V531.70" stroke="#111" stroke-width="2.7" fill="none"/>
<path d="M471.09,536.00 L477.09,532.40" stroke="#111" stroke-width="2.4" fill="none"/>
<text x="491.71" y="550.60" font-size="27" text-anchor="middle">7</text>
<circle cx="710.8" cy="558.9" r="19" fill="none" stroke="#231f20" stroke-width="1.4"/>
<text x="703.29" y="569.10" font-size="27" text-anchor="middle">2</text>
<text x="718.31" y="569.10" font-size="27" text-anchor="middle">2</text>
<circle cx="507.6" cy="592.7" r="19" fill="none" stroke="#231f20" stroke-width="1.4"/>
<text x="500.09" y="602.90" font-size="27" text-anchor="middle">2</text>
<text x="515.11" y="602.90" font-size="27" text-anchor="middle">3</text>
<circle cx="710.9" cy="626.3" r="19" fill="none" stroke="#231f20" stroke-width="1.4"/>
<text x="703.39" y="636.50" font-size="27" text-anchor="middle">2</text>
<text x="718.41" y="636.50" font-size="27" text-anchor="middle">4</text>
<circle cx="509" cy="647.1" r="19" fill="none" stroke="#231f20" stroke-width="1.4"/>
<text x="501.49" y="657.30" font-size="27" text-anchor="middle">2</text>
<text x="516.51" y="657.30" font-size="27" text-anchor="middle">5</text>
<circle cx="710.9" cy="675" r="19" fill="none" stroke="#231f20" stroke-width="1.4"/>
<text x="703.39" y="685.20" font-size="27" text-anchor="middle">2</text>
<text x="718.41" y="685.20" font-size="27" text-anchor="middle">6</text>
<circle cx="1068" cy="167.5" r="19" fill="none" stroke="#231f20" stroke-width="1.4"/>
<path d="M1068.60,177.70 V158.80" stroke="#111" stroke-width="2.7" fill="none"/>
<path d="M1062.40,163.10 L1068.40,159.50" stroke="#111" stroke-width="2.4" fill="none"/>
<circle cx="884.3" cy="245.2" r="19" fill="none" stroke="#231f20" stroke-width="1.4"/>
<text x="884.30" y="255.40" font-size="27" text-anchor="middle">2</text>
<circle cx="1084.1" cy="407.6" r="19" fill="none" stroke="#231f20" stroke-width="1.4"/>
<text x="1084.10" y="417.80" font-size="27" text-anchor="middle">3</text>
<circle cx="873.6" cy="563.6" r="19" fill="none" stroke="#231f20" stroke-width="1.4"/>
<text x="873.60" y="573.80" font-size="27" text-anchor="middle">4</text>
<circle cx="1074.7" cy="621.8" r="19" fill="none" stroke="#231f20" stroke-width="1.4"/>
<text x="1074.70" y="632.00" font-size="27" text-anchor="middle">5</text>
<circle cx="882.6" cy="662.2" r="19" fill="none" stroke="#231f20" stroke-width="1.4"/>
<text x="882.60" y="672.40" font-size="27" text-anchor="middle">6</text>
<circle cx="1150.3" cy="712.9" r="19" fill="none" stroke="#231f20" stroke-width="1.4"/>
<text x="1150.30" y="723.10" font-size="27" text-anchor="middle">7</text>
<circle cx="876.4" cy="724.6" r="19" fill="none" stroke="#231f20" stroke-width="1.4"/>
<text x="876.40" y="734.80" font-size="27" text-anchor="middle">8</text>
<circle cx="1072.6" cy="788.6" r="19" fill="none" stroke="#231f20" stroke-width="1.4"/>
<text x="1072.60" y="798.80" font-size="27" text-anchor="middle">9</text>
<circle cx="881" cy="838.6" r="19" fill="none" stroke="#231f20" stroke-width="1.4"/>
<path d="M874.09,848.80 V829.90" stroke="#111" stroke-width="2.7" fill="none"/>
<path d="M867.89,834.20 L873.89,830.60" stroke="#111" stroke-width="2.4" fill="none"/>
<text x="888.51" y="848.80" font-size="27" text-anchor="middle">0</text>
<circle cx="776.6" cy="776.4" r="19" fill="none" stroke="#231f20" stroke-width="1.4"/>
<path d="M769.69,786.60 V767.70" stroke="#111" stroke-width="2.7" fill="none"/>
<path d="M763.49,772.00 L769.49,768.40" stroke="#111" stroke-width="2.4" fill="none"/>
<text x="784.11" y="786.60" font-size="27" text-anchor="middle">4</text>
<circle cx="758.5" cy="965.5" r="19" fill="none" stroke="#231f20" stroke-width="1.4"/>
<path d="M751.59,975.70 V956.80" stroke="#111" stroke-width="2.7" fill="none"/>
<path d="M745.39,961.10 L751.39,957.50" stroke="#111" stroke-width="2.4" fill="none"/>
<text x="766.01" y="975.70" font-size="27" text-anchor="middle">3</text>
<circle cx="809.8" cy="1032.7" r="19" fill="none" stroke="#231f20" stroke-width="1.4"/>
<path d="M802.89,1042.90 V1024.00" stroke="#111" stroke-width="2.7" fill="none"/>
<path d="M796.69,1028.30 L802.69,1024.70" stroke="#111" stroke-width="2.4" fill="none"/>
<text x="817.31" y="1042.90" font-size="27" text-anchor="middle">5</text>
<circle cx="1163.8" cy="890.5" r="19" fill="none" stroke="#231f20" stroke-width="1.4"/>
<path d="M1156.89,900.70 V881.80" stroke="#111" stroke-width="2.7" fill="none"/>
<path d="M1150.69,886.10 L1156.69,882.50" stroke="#111" stroke-width="2.4" fill="none"/>
<text x="1171.31" y="900.70" font-size="27" text-anchor="middle">2</text>
<circle cx="1091.5" cy="1009.7" r="19" fill="none" stroke="#231f20" stroke-width="1.4"/>
<path d="M1084.59,1019.90 V1001.00" stroke="#111" stroke-width="2.7" fill="none"/>
<path d="M1078.39,1005.30 L1084.39,1001.70" stroke="#111" stroke-width="2.4" fill="none"/>
<path d="M1099.61,1019.90 V1001.00" stroke="#111" stroke-width="2.7" fill="none"/>
<path d="M1093.41,1005.30 L1099.41,1001.70" stroke="#111" stroke-width="2.4" fill="none"/>
<circle cx="1072.6" cy="1086.5" r="19" fill="none" stroke="#231f20" stroke-width="1.4"/>
<text x="1072.60" y="1096.70" font-size="27" text-anchor="middle">7</text>
</svg>
</body></html>
